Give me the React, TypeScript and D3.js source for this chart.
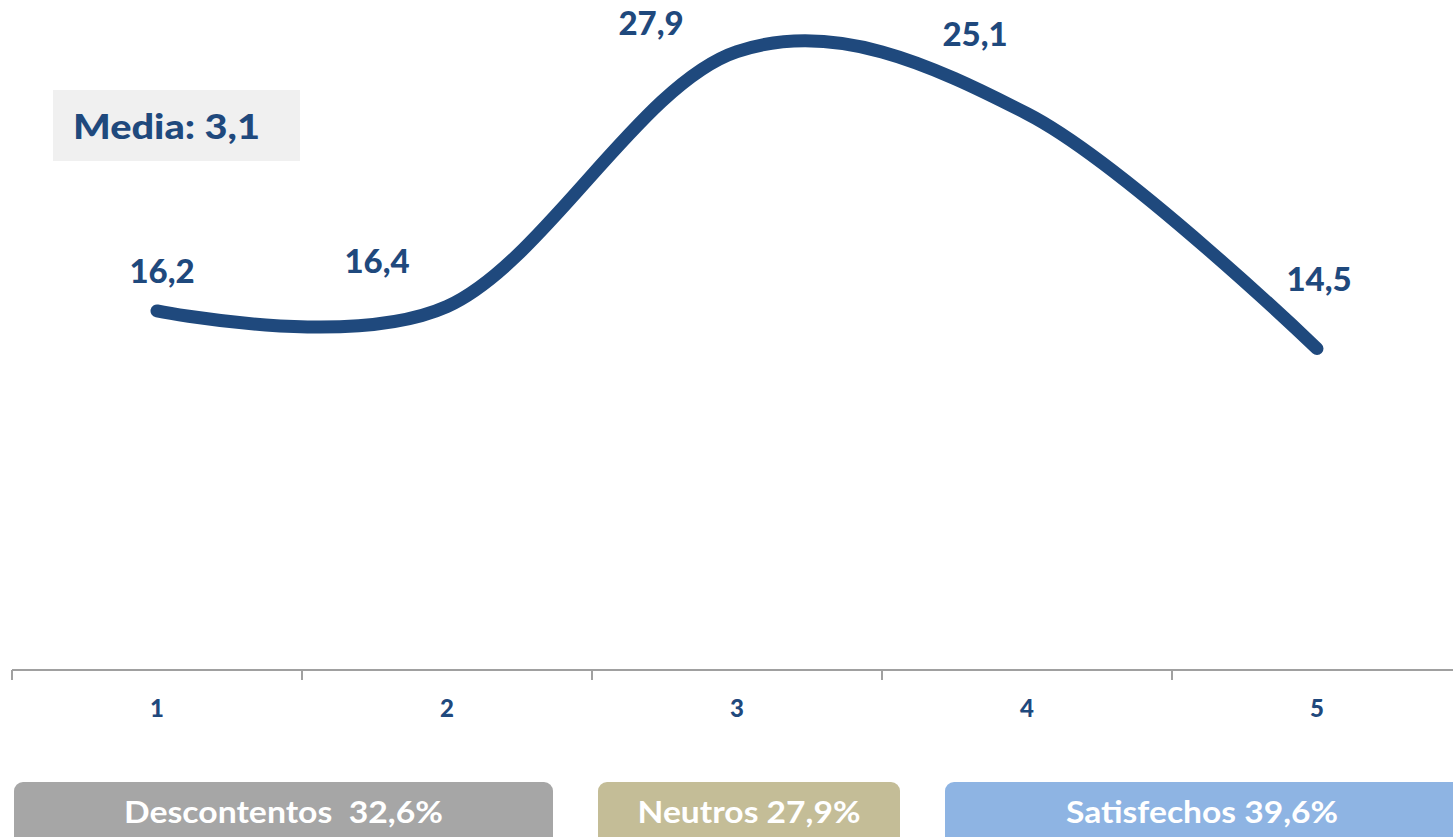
import React from "react";
import * as d3 from "d3";

const categories = ["1", "2", "3", "4", "5"];
const values = [16.2, 16.4, 27.9, 25.1, 14.5];
const valueLabels = ["16,2", "16,4", "27,9", "25,1", "14,5"];
const mediaLabel = "Media: 3,1";
const groupLabels = ["Descontentos  32,6%", "Neutros 27,9%", "Satisfechos 39,6%"];

// label offsets relative to the point (styling)
const labelDx = [5, -70, -86, -52, 2];
const labelDy = [-28, -33, -17, -68, -58];

const W = 1453;
const H = 837;
const LINE = "#1f497d";
const FONT = "Lato, 'Open Sans', sans-serif";

export default function App() {
  const x = d3.scaleBand<string>().domain(categories).range([12, 1462]).padding(0);
  const y = d3.scaleLinear().domain([0, 30]).range([670, 5]);
  const cx = (c: string) => (x(c) as number) + x.bandwidth() / 2;

  const pts: [number, number][] = categories.map((c, i) => [cx(c), y(values[i])]);
  const line = d3.line().curve(d3.curveCardinal.tension(0))(pts) as string;

  const ticks = categories
    .map((c) => x(c) as number)
    .concat([(x(categories[categories.length - 1]) as number) + x.bandwidth()]);

  const legendBoxes = [
    { x0: 14, x1: 553, fill: "#a6a6a6", tl: 319 },
    { x0: 598, x1: 900, fill: "#c4bd97", tl: 223 },
    { x0: 945, x1: 1462, fill: "#8eb4e3", tl: 272 },
  ];

  return (
    <svg width={W} height={H} style={{ position: "absolute", left: 0, top: 0, display: "block" }} fontFamily={FONT}>
      <rect x={0} y={0} width={W} height={H} fill="#ffffff" />
      {/* Media box */}
      <rect x={53} y={90} width={247} height={71} fill="#f0f0f0" />
      <text x={73} y={139} fontSize={35} fontWeight={900} fill={LINE} textLength={187} lengthAdjust="spacingAndGlyphs">
        {mediaLabel}
      </text>

      {/* axis */}
      <line x1={12} x2={W} y1={670} y2={670} stroke="#a0a0a0" strokeWidth={2} />
      {ticks.map((t, i) => (
        <line key={i} x1={t} x2={t} y1={670} y2={680} stroke="#a0a0a0" strokeWidth={2} />
      ))}
      {categories.map((c) => (
        <text key={c} x={cx(c)} y={717} textAnchor="middle" fontSize={24} fontWeight={900} fill={LINE}>
          {c}
        </text>
      ))}

      {/* line */}
      <path d={line} fill="none" stroke={LINE} strokeWidth={13} strokeLinecap="round" strokeLinejoin="round" />

      {/* value labels */}
      {categories.map((c, i) => (
        <text
          key={"v" + c}
          x={cx(c) + labelDx[i]}
          y={y(values[i]) + labelDy[i]}
          textAnchor="middle"
          fontSize={33}
          fontWeight={900}
          fill={LINE}
        >
          {valueLabels[i]}
        </text>
      ))}

      {/* group legend boxes */}
      {legendBoxes.map((b, i) => (
        <g key={"g" + i}>
          <rect x={b.x0} y={782} width={b.x1 - b.x0} height={80} rx={9} ry={9} fill={b.fill} />
          <text
            x={i === 2 ? 1202 : (b.x0 + b.x1) / 2}
            y={823}
            textAnchor="middle"
            fontSize={31}
            fontWeight={700}
            fill="#ffffff"
            textLength={b.tl}
            lengthAdjust="spacingAndGlyphs"
            style={{ whiteSpace: "pre" }}
          >
            {groupLabels[i]}
          </text>
        </g>
      ))}
    </svg>
  );
}
